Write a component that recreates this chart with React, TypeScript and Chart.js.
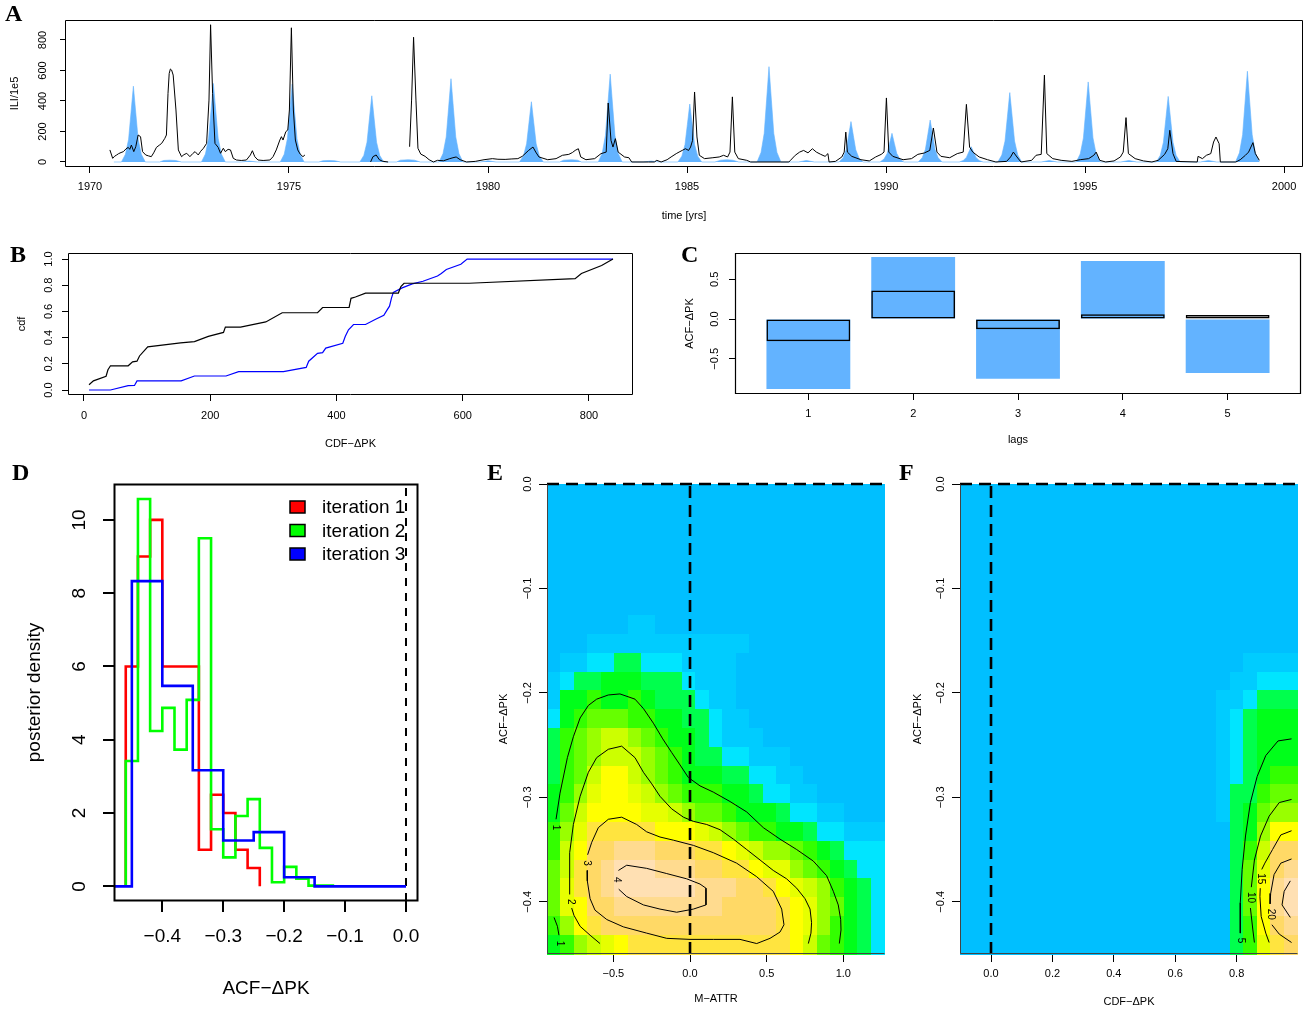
import React, { useEffect, useRef } from "react";
import { Chart, registerables } from "chart.js";

Chart.register(...registerables);

const FONT = "'Liberation Sans', Arial, Helvetica, sans-serif";
const SERIF = "'Liberation Serif', 'Times New Roman', Times, serif";
const M = "\u2212";
const BLUE = "#63B3FF";

Chart.defaults.font.family = FONT;
Chart.defaults.color = "#000";

/* ---------------- Panel A : ILI time series ---------------- */
const A_YEAR_TICKS = [1970, 1975, 1980, 1985, 1990, 1995, 2000];
const A_ILI_TICKS = [0, 200, 400, 600, 800];
const A_MODEL: [number, number][] = [
  [1970.6, 0],
  [1970.79, 0], [1970.89, 50], [1970.97, 149], [1971.03, 323], [1971.09, 497], [1971.15, 323], [1971.21, 149], [1971.29, 50], [1971.39, 0],
  [1971.75, 0], [1971.85, 10], [1972.0, 12], [1972.15, 10], [1972.3, 0],
  [1972.8, 0], [1972.9, 52], [1972.98, 155], [1973.04, 335], [1973.1, 515], [1973.16, 335], [1973.22, 155], [1973.3, 52], [1973.4, 0],
  [1973.8, 0], [1974.0, 6], [1974.2, 0],
  [1974.78, 0], [1974.88, 51], [1974.96, 153], [1975.02, 332], [1975.08, 510], [1975.14, 332], [1975.2, 153], [1975.28, 51], [1975.38, 0],
  [1975.75, 0], [1975.85, 8], [1976.0, 10], [1976.15, 8], [1976.3, 0],
  [1976.78, 0], [1976.88, 43], [1976.96, 130], [1977.02, 282], [1977.08, 434], [1977.14, 282], [1977.2, 130], [1977.28, 43], [1977.38, 0],
  [1977.7, 0], [1977.8, 12], [1978.0, 15], [1978.15, 12], [1978.3, 0],
  [1978.77, 0], [1978.87, 55], [1978.95, 164], [1979.01, 355], [1979.07, 546], [1979.13, 355], [1979.19, 164], [1979.27, 55], [1979.37, 0],
  [1979.8, 0], [1980.0, 8], [1980.2, 0],
  [1980.79, 0], [1980.89, 40], [1980.97, 119], [1981.03, 257], [1981.09, 395], [1981.15, 257], [1981.21, 119], [1981.29, 40], [1981.39, 0],
  [1981.8, 0], [1981.9, 12], [1982.1, 15], [1982.25, 12], [1982.35, 0],
  [1982.77, 0], [1982.87, 58], [1982.95, 173], [1983.01, 374], [1983.07, 576], [1983.13, 374], [1983.19, 173], [1983.27, 58], [1983.37, 0],
  [1983.9, 0], [1984.1, 6], [1984.3, 0],
  [1984.77, 0], [1984.87, 38], [1984.95, 114], [1985.01, 247], [1985.07, 380], [1985.13, 247], [1985.19, 114], [1985.27, 38], [1985.37, 0],
  [1985.7, 0], [1985.85, 12], [1986.0, 15], [1986.15, 12], [1986.3, 0],
  [1986.76, 0], [1986.86, 63], [1986.94, 188], [1987.0, 406], [1987.06, 625], [1987.12, 406], [1987.18, 188], [1987.26, 63], [1987.36, 0],
  [1987.8, 0], [1988.0, 10], [1988.2, 0],
  [1988.82, 0], [1988.92, 27], [1989.0, 80], [1989.06, 172], [1989.12, 265], [1989.18, 172], [1989.24, 80], [1989.32, 27], [1989.42, 0],
  [1989.85, 0], [1989.95, 19], [1990.03, 56], [1990.09, 122], [1990.15, 188], [1990.21, 122], [1990.27, 56], [1990.35, 19], [1990.45, 0],
  [1990.81, 0], [1990.91, 28], [1990.99, 83], [1991.05, 179], [1991.11, 275], [1991.17, 179], [1991.23, 83], [1991.31, 28], [1991.41, 0],
  [1991.84, 0], [1991.94, 10], [1992.02, 30], [1992.08, 65], [1992.14, 100], [1992.2, 65], [1992.26, 30], [1992.34, 10], [1992.44, 0],
  [1992.81, 0], [1992.91, 46], [1992.99, 137], [1993.05, 296], [1993.11, 455], [1993.17, 296], [1993.23, 137], [1993.31, 46], [1993.41, 0],
  [1993.9, 0], [1994.1, 10], [1994.3, 0],
  [1994.78, 0], [1994.88, 53], [1994.96, 158], [1995.02, 341], [1995.08, 525], [1995.14, 341], [1995.2, 158], [1995.28, 53], [1995.38, 0],
  [1995.9, 0], [1996.1, 10], [1996.3, 0],
  [1996.79, 0], [1996.89, 43], [1996.97, 129], [1997.03, 280], [1997.09, 430], [1997.15, 280], [1997.21, 129], [1997.29, 43], [1997.39, 0],
  [1997.9, 0], [1998.1, 10], [1998.3, 0],
  [1998.78, 0], [1998.88, 60], [1998.96, 179], [1999.02, 387], [1999.08, 595], [1999.14, 387], [1999.2, 179], [1999.28, 60], [1999.38, 0],
];
const A_OBSERVED: [number, number | null][] = [
  [1970.5, 79], [1970.57, 24], [1970.62, 38], [1970.67, 46], [1970.72, 55], [1970.78, 62], [1970.84, 68], [1970.9, 85], [1970.96, 96],
  [1971.0, 83], [1971.04, 111], [1971.1, 68], [1971.15, 100], [1971.21, 177], [1971.27, 166], [1971.32, 68], [1971.4, 46], [1971.47, 40],
  [1971.54, 35], [1971.6, 60], [1971.67, 96], [1971.74, 110], [1971.8, 122], [1971.88, 155], [1971.92, 177], [1971.96, 450], [1971.99, 581],
  [1972.02, 610], [1972.05, 603], [1972.09, 570], [1972.16, 341], [1972.22, 79], [1972.3, 35], [1972.36, 48], [1972.43, 57], [1972.51, 35],
  [1972.58, 55], [1972.64, 68], [1972.72, 46], [1972.78, 70], [1972.85, 90], [1972.93, 122], [1972.99, 406], [1973.03, 900], [1973.08, 450],
  [1973.14, 122], [1973.22, 96], [1973.28, 57], [1973.35, 90], [1973.4, 68], [1973.47, 83], [1973.53, 79], [1973.6, 24], [1973.68, 13],
  [1973.8, 10], [1973.93, 13], [1974.03, 46], [1974.08, 74], [1974.14, 35], [1974.22, 13], [1974.35, 10], [1974.52, 13], [1974.6, 35],
  [1974.68, 79], [1974.77, 144], [1974.81, 166], [1974.85, 144], [1974.92, 199], [1974.97, 210], [1975.01, 341], [1975.06, 880],
  [1975.11, 341], [1975.16, 144], [1975.22, 79], [1975.28, 52], [1975.35, 35], [1975.4, 46],
  [1976.2, null],
  [1977.05, 0], [1977.11, 35], [1977.19, 46], [1977.27, 15], [1977.35, 5], [1977.49, 0],
  [1977.7, null],
  [1978.03, 100], [1978.08, 406], [1978.13, 818], [1978.19, 406], [1978.24, 90], [1978.31, 52], [1978.42, 37], [1978.52, 15], [1978.63, 0],
  [1978.73, 11], [1978.88, 8], [1979.04, 22], [1979.12, 28], [1979.2, 33], [1979.3, 15], [1979.46, 0], [1979.68, 4], [1979.9, 15],
  [1980.11, 22], [1980.25, 18], [1980.43, 17], [1980.6, 20], [1980.75, 22], [1980.86, 37], [1981.02, 76], [1981.13, 98], [1981.2, 65],
  [1981.28, 33], [1981.5, 15], [1981.71, 22], [1981.87, 44], [1982.03, 50], [1982.12, 62], [1982.19, 76], [1982.27, 87], [1982.33, 33],
  [1982.46, 15], [1982.68, 22], [1982.84, 55], [1982.97, 65], [1983.02, 387], [1983.09, 142], [1983.14, 98], [1983.2, 153], [1983.27, 65],
  [1983.43, 33], [1983.54, 28], [1983.61, 0], [1984.03, 0], [1984.18, 0], [1984.24, 11], [1984.35, 0], [1984.5, 15], [1984.6, 33],
  [1984.73, 55], [1984.8, 65], [1984.88, 76], [1984.96, 87], [1985.04, 76], [1985.09, 98], [1985.14, 142], [1985.19, 459], [1985.25, 164],
  [1985.31, 44], [1985.44, 22], [1985.65, 28], [1985.81, 33], [1985.92, 44], [1986.02, 33], [1986.08, 65], [1986.14, 427], [1986.2, 65],
  [1986.29, 22], [1986.5, 11], [1986.6, 0], [1987.56, 0], [1987.6, 11], [1987.72, 44], [1987.83, 65], [1987.93, 76], [1988.04, 60],
  [1988.15, 87], [1988.25, 65], [1988.36, 50], [1988.47, 37], [1988.54, 55], [1988.57, 0], [1988.73, 4], [1988.89, 33], [1988.95, 65],
  [1988.99, 196], [1989.03, 65], [1989.14, 37], [1989.37, 15], [1989.58, 7], [1989.74, 33], [1989.88, 50], [1989.95, 65], [1990.01, 420],
  [1990.07, 65], [1990.17, 37], [1990.43, 15], [1990.64, 22], [1990.8, 50], [1990.96, 59], [1991.1, 76], [1991.19, 223], [1991.28, 65],
  [1991.38, 37], [1991.6, 28], [1991.79, 55], [1991.94, 65], [1992.02, 378], [1992.1, 98], [1992.18, 65], [1992.34, 33], [1992.55, 15],
  [1992.76, 0], [1993.03, 4], [1993.13, 33], [1993.2, 65], [1993.29, 33], [1993.39, 0], [1993.66, 11], [1993.77, 44], [1993.9, 50],
  [1993.98, 570], [1994.04, 55], [1994.19, 22], [1994.4, 11], [1994.67, 4], [1994.88, 15], [1995.09, 22], [1995.22, 44], [1995.28, 65],
  [1995.37, 11], [1995.52, 0], [1995.73, 7], [1995.89, 33], [1995.96, 65], [1996.03, 291], [1996.09, 55], [1996.26, 22], [1996.47, 7],
  [1996.68, 0], [1996.84, 11], [1997.0, 50], [1997.08, 87], [1997.13, 208], [1997.21, 55], [1997.29, 4], [1997.82, 0], [1997.84, 37],
  [1997.95, 22], [1998.05, 44], [1998.16, 55], [1998.23, 131], [1998.29, 164], [1998.37, 120], [1998.4, 0], [1998.79, 0], [1998.9, 15],
  [1999.03, 44], [1999.11, 65], [1999.22, 127], [1999.28, 55], [1999.38, 11],
];

/* ---------------- Panel B : CDFs ---------------- */
const B_X_TICKS = [0, 200, 400, 600, 800];
const B_Y_TICKS = [0, 0.2, 0.4, 0.6, 0.8, 1.0];
const B_OBSERVED: [number, number][] = [
  [8, 0.04], [15, 0.07], [35, 0.105], [38, 0.155], [42, 0.185], [70, 0.185], [77, 0.215], [84, 0.22], [88, 0.26], [101, 0.33],
  [153, 0.36], [175, 0.37], [197, 0.41], [221, 0.44], [224, 0.48], [248, 0.48], [288, 0.52], [314, 0.59], [370, 0.59], [378, 0.63],
  [420, 0.63], [423, 0.7], [430, 0.71], [446, 0.74], [498, 0.74], [502, 0.79], [507, 0.815], [610, 0.815], [778, 0.85], [788, 0.89],
  [820, 0.95], [838, 1.0],
];
const B_SIMULATED: [number, number][] = [
  [8, 0], [42, 0], [70, 0.033], [80, 0.035], [84, 0.07], [154, 0.07], [175, 0.107], [225, 0.107], [245, 0.14], [316, 0.14],
  [352, 0.173], [356, 0.22], [370, 0.28], [378, 0.285], [383, 0.32], [410, 0.357], [414, 0.41], [419, 0.46], [427, 0.5], [446, 0.5],
  [462, 0.54], [475, 0.57], [480, 0.61], [484, 0.64], [487, 0.7], [490, 0.745], [504, 0.78], [520, 0.81], [537, 0.83], [560, 0.87],
  [566, 0.89], [574, 0.92], [597, 0.96], [607, 1.0], [838, 1.0],
];

/* ---------------- Panel C : ACF by lag ---------------- */
const C_LAGS = [1, 2, 3, 4, 5];
const C_RANGE = [-0.88, 0.78, -0.75, 0.73, -0.68];
const C_OBSERVED = [-0.28, 0.36, -0.13, 0.06, 0.05];
const C_Y_TICKS = [-0.5, 0, 0.5];

/* ---------------- Panel D : posterior histograms ---------------- */
const D_X_TICKS = [-0.4, -0.3, -0.2, -0.1, 0.0];
const D_Y_TICKS = [0, 2, 4, 6, 8, 10];
const D_LABELS = ["iteration 1", "iteration 2", "iteration 3"];
const D_COLORS = ["#FF0000", "#00FF00", "#0000FF"];
const D1_EDGES = [-0.46, -0.44, -0.42, -0.4, -0.38, -0.36, -0.34, -0.32, -0.3, -0.28, -0.26, -0.24];
const D1_DENS = [6, 9, 10, 6, 6, 6, 1, 2.5, 2, 1, 0.5];
const D2_EDGES = [-0.46, -0.44, -0.42, -0.4, -0.38, -0.36, -0.34, -0.32, -0.3, -0.28, -0.26, -0.24, -0.22, -0.2, -0.18, -0.16, -0.14, -0.12];
const D2_DENS = [3.42, 10.57, 4.24, 4.87, 3.73, 5.09, 9.5, 1.56, 0.79, 1.92, 2.38, 1.05, 0.11, 0.53, 0.21, 0.02, 0.02];
const D3_EDGES = [-0.5, -0.45, -0.4, -0.35, -0.3, -0.25, -0.2, -0.15, -0.1, -0.05, 0.0];
const D3_DENS = [0, 8.33, 5.47, 3.17, 1.25, 1.48, 0.25, 0, 0, 0];

/* ---------------- Panels E / F : joint densities ---------------- */
const PALETTE = [
  "#00BFFF", "#00CCFF", "#00E5FF", "#00FF4D", "#00FF1A", "#33FF00", "#66FF00", "#99FF00",
  "#CCFF00", "#E6FF00", "#FFFF00", "#FFE43F", "#FFD966", "#FFDB8F", "#FFE0B3",
];
const EF_Y_TICKS = [0, -0.1, -0.2, -0.3, -0.4];
const E_X_TICKS = [-0.5, 0, 0.5, 1.0];
const F_X_TICKS = [0, 0.2, 0.4, 0.6, 0.8];
// rows listed from top (ACF-dPK = 0) to bottom (-0.45); one character per cell (hex palette index)
const E_GRID = [
  "0000000000000000000000000",
  "0000000000000000000000000",
  "0000000000000000000000000",
  "0000000000000000000000000",
  "0000000000000000000000000",
  "0000000000000000000000000",
  "0000000000000000000000000",
  "0000001100000000000000000",
  "0001111111111110000000000",
  "0112233222111100000000000",
  "1233444333211100000000000",
  "1445445433321100000000000",
  "2456665544332110000000000",
  "3567887654432111000000000",
  "3567888765433221110000000",
  "3568aa8765444332211000000",
  "4579aa9876555443221100000",
  "468aaaa998766544432211000",
  "579bbbbbaaa98765544322111",
  "58accdddcccbba98776543222",
  "68bcdeeedddccbba997654322",
  "69bcdeeeeeedddccba9875432",
  "69accddddddddccccba976432",
  "57abcccccccccccccba975432",
  "45789abbbbbbbbbbbba865432",
];
const F_GRID = [
  "0000000000000000000000000",
  "0000000000000000000000000",
  "0000000000000000000000000",
  "0000000000000000000000000",
  "0000000000000000000000000",
  "0000000000000000000000000",
  "0000000000000000000000000",
  "0000000000000000000000000",
  "0000000000000000000000000",
  "0000000000000000000001111",
  "0000000000000000000011222",
  "0000000000000000000112333",
  "0000000000000000000123444",
  "0000000000000000000123444",
  "0000000000000000000123444",
  "0000000000000000000123455",
  "0000000000000000000133566",
  "0000000000000000000134677",
  "00000000000000000000347aa",
  "00000000000000000000358cc",
  "00000000000000000000369cd",
  "0000000000000000000036ade",
  "0000000000000000000036ade",
  "0000000000000000000035acd",
  "0000000000000000000359bc".padStart(25, "0"),
];
const E_CONTOURS: [number, number][][] = [
  [[-0.874, -0.321], [-0.848, -0.296], [-0.8, -0.262], [-0.761, -0.242], [-0.717, -0.224], [-0.663, -0.212], [-0.609, -0.206],
   [-0.533, -0.202], [-0.457, -0.201], [-0.359, -0.206], [-0.304, -0.215], [-0.239, -0.229], [-0.178, -0.244], [-0.12, -0.257],
   [-0.065, -0.269], [-0.011, -0.281], [0.065, -0.289], [0.152, -0.295], [0.261, -0.304], [0.37, -0.314], [0.478, -0.329],
   [0.587, -0.34], [0.696, -0.35], [0.804, -0.361], [0.891, -0.375], [0.935, -0.39], [0.967, -0.403], [0.983, -0.417],
   [0.985, -0.427], [0.974, -0.44]],
  [[-0.887, -0.415], [-0.865, -0.4235], [-0.855, -0.432]],
  [[-0.587, -0.44], [-0.652, -0.432], [-0.717, -0.4235], [-0.757, -0.413], [-0.772, -0.406]],
  [[-0.785, -0.393], [-0.787, -0.38], [-0.783, -0.353], [-0.761, -0.326], [-0.717, -0.299], [-0.663, -0.276], [-0.609, -0.262],
   [-0.533, -0.254], [-0.446, -0.251], [-0.359, -0.262], [-0.304, -0.276], [-0.25, -0.287], [-0.196, -0.299], [-0.12, -0.311],
   [-0.043, -0.319], [0.022, -0.323], [0.109, -0.326], [0.196, -0.331], [0.283, -0.34], [0.37, -0.35], [0.457, -0.36],
   [0.543, -0.37], [0.63, -0.378], [0.696, -0.387], [0.75, -0.397], [0.783, -0.407], [0.793, -0.42], [0.789, -0.43], [0.772, -0.44]],
  [[-0.671, -0.37], [-0.67, -0.38], [-0.652, -0.397], [-0.62, -0.408], [-0.543, -0.417], [-0.435, -0.424], [-0.283, -0.43],
   [-0.152, -0.435], [0.0, -0.436], [0.152, -0.436], [0.326, -0.436], [0.435, -0.44], [0.522, -0.435], [0.587, -0.429],
   [0.613, -0.422], [0.598, -0.407], [0.543, -0.39], [0.435, -0.376], [0.304, -0.363], [0.152, -0.353], [0.022, -0.346],
   [-0.109, -0.341], [-0.196, -0.338], [-0.283, -0.333], [-0.348, -0.326], [-0.446, -0.319], [-0.533, -0.321], [-0.598, -0.329],
   [-0.641, -0.343], [-0.668, -0.355]],
  [[-0.467, -0.37], [-0.413, -0.365], [-0.283, -0.368], [-0.152, -0.373], [-0.022, -0.378], [0.065, -0.383], [0.104, -0.387],
   [0.104, -0.403], [0.022, -0.407], [-0.087, -0.41], [-0.196, -0.407], [-0.304, -0.403], [-0.413, -0.395], [-0.465, -0.388]],
];
const E_LEVEL_LABELS = [
  { x: -0.878, y: -0.329, t: "1" }, { x: -0.848, y: -0.44, t: "1" }, { x: -0.779, y: -0.4, t: "2" },
  { x: -0.672, y: -0.363, t: "3" }, { x: -0.477, y: -0.379, t: "4" },
];
const F_CONTOURS: [number, number][][] = [
  [[0.979, -0.244], [0.935, -0.246], [0.895, -0.26], [0.867, -0.28], [0.845, -0.305], [0.829, -0.337], [0.818, -0.369],
   [0.812, -0.401], [0.812, -0.43]],
  [[0.979, -0.302], [0.939, -0.305], [0.906, -0.318], [0.878, -0.337], [0.858, -0.36], [0.848, -0.386]],
  [[0.845, -0.406], [0.853, -0.427], [0.858, -0.439]],
  [[0.979, -0.332], [0.944, -0.336], [0.917, -0.35], [0.892, -0.363], [0.882, -0.369]],
  [[0.877, -0.387], [0.876, -0.395], [0.88, -0.414], [0.895, -0.43], [0.906, -0.439]],
  [[0.979, -0.359], [0.944, -0.363], [0.922, -0.374], [0.911, -0.392], [0.909, -0.402]],
  [[0.915, -0.422], [0.939, -0.431], [0.979, -0.439]],
  [[0.975, -0.38], [0.955, -0.39], [0.948, -0.403], [0.975, -0.415]],
];
const F_LEVEL_LABELS = [
  { x: 0.813, y: -0.437, t: "5" }, { x: 0.846, y: -0.396, t: "10" },
  { x: 0.879, y: -0.378, t: "15" }, { x: 0.91, y: -0.412, t: "20" },
];

/* ---------------- helpers ---------------- */
const fmtInt = (v: number) => String(Math.round(v));
const fmt1 = (v: number) => (v < -1e-9 ? M : "") + Math.abs(v).toFixed(1);

function xAxis(s: any) {
  return {
    type: "linear", position: "bottom", min: s.min, max: s.max, offset: false,
    afterBuildTicks: (sc: any) => { sc.ticks = s.ticks.map((v: number) => ({ value: v })); },
    afterFit: (sc: any) => { sc.height = s.extent; sc.paddingLeft = 0; sc.paddingRight = 0; sc.paddingTop = 0; sc.paddingBottom = 0; },
    grid: { display: true, drawOnChartArea: false, drawTicks: true, tickLength: s.tickLen, color: "#000", lineWidth: s.lw || 1, offset: false },
    border: { display: false },
    ticks: { autoSkip: false, minRotation: 0, maxRotation: 0, padding: s.pad, color: "#000", font: { family: FONT, size: s.size }, callback: (v: any) => s.fmt(Number(v)) },
    title: { display: true, text: s.title, color: "#000", font: { family: FONT, size: s.titleSize || s.size }, padding: { top: 0, bottom: s.titlePad } },
  };
}
function yAxis(s: any) {
  return {
    type: "linear", position: "left", min: s.min, max: s.max, offset: false,
    afterBuildTicks: (sc: any) => { sc.ticks = s.ticks.map((v: number) => ({ value: v })); },
    afterFit: (sc: any) => { sc.width = s.extent; sc.paddingLeft = 0; sc.paddingRight = 0; sc.paddingTop = 0; sc.paddingBottom = 0; },
    grid: { display: true, drawOnChartArea: false, drawTicks: true, tickLength: s.tickLen, color: "#000", lineWidth: s.lw || 1, offset: false },
    border: { display: false },
    ticks: { autoSkip: false, minRotation: 90, maxRotation: 90, crossAlign: "center", padding: s.pad, color: "#000", font: { family: FONT, size: s.size }, callback: (v: any) => s.fmt(Number(v)) },
    title: { display: true, text: s.title, color: "#000", font: { family: FONT, size: s.titleSize || s.size }, padding: { top: s.titlePad, bottom: 0 } },
  };
}
function baseOptions(pad: any, scales: any) {
  return {
    responsive: false, maintainAspectRatio: false, animation: false, events: [],
    layout: { padding: pad },
    plugins: { legend: { display: false }, tooltip: { enabled: false }, title: { display: false } },
    elements: { point: { radius: 0 }, line: { tension: 0 } },
    scales,
  };
}
function framePlugin(sides: string, color: string, width: number) {
  return {
    id: "frame",
    afterDatasetsDraw(chart: any) {
      const { ctx, chartArea: a } = chart;
      const l = Math.round(a.left) + 0.5, t = Math.round(a.top) + 0.5, r = Math.round(a.right) - 0.5, b = Math.round(a.bottom) - 0.5;
      ctx.save(); ctx.strokeStyle = color; ctx.lineWidth = width; ctx.beginPath();
      if (sides === "all") { ctx.rect(l, t, r - l, b - t); }
      else { ctx.moveTo(l, t); ctx.lineTo(l, b); ctx.lineTo(r, b); }
      ctx.stroke(); ctx.restore();
    },
  };
}
function heatmapPlugin(rows: string[], xr: [number, number], yr: [number, number]) {
  return {
    id: "heatmap",
    beforeDatasetsDraw(chart: any) {
      const { ctx, scales: { x, y } } = chart;
      const nr = rows.length, nc = rows[0].length;
      const dx = (xr[1] - xr[0]) / nc, dy = (yr[1] - yr[0]) / nr;
      ctx.save();
      rows.forEach((row, i) => {
        const top = yr[1] - i * dy, bot = top - dy;
        for (let c = 0; c < nc; c++) {
          const x0 = x.getPixelForValue(xr[0] + c * dx), x1 = x.getPixelForValue(xr[0] + (c + 1) * dx);
          const y0 = y.getPixelForValue(top), y1 = y.getPixelForValue(bot);
          ctx.fillStyle = PALETTE[parseInt(row[c], 16)];
          const px = Math.floor(x0), py = Math.floor(y0);
          ctx.fillRect(px, py, Math.ceil(x1) - px, Math.ceil(y1) - py);
        }
      });
      ctx.restore();
    },
  };
}
function levelLabelPlugin(items: { x: number; y: number; t: string }[], size: number) {
  return {
    id: "levelLabels",
    afterDatasetsDraw(chart: any) {
      const { ctx, scales: { x, y } } = chart;
      ctx.save(); ctx.font = `${size}px ${FONT}`; ctx.fillStyle = "#000"; ctx.textAlign = "center"; ctx.textBaseline = "middle";
      items.forEach((it) => {
        ctx.save(); ctx.translate(x.getPixelForValue(it.x), y.getPixelForValue(it.y)); ctx.rotate(Math.PI / 2);
        ctx.fillText(it.t, 0, 0); ctx.restore();
      });
      ctx.restore();
    },
  };
}
const dLegendPlugin = {
  id: "dLegend",
  afterDatasetsDraw(chart: any) {
    const { ctx, chartArea: a } = chart;
    ctx.save(); ctx.font = `19px ${FONT}`; ctx.textBaseline = "middle"; ctx.textAlign = "left";
    D_LABELS.forEach((lab, i) => {
      const cy = a.top + 23 + i * 23.5;
      ctx.fillStyle = D_COLORS[i]; ctx.fillRect(a.left + 176, cy - 6, 15, 12);
      ctx.strokeStyle = "#000"; ctx.lineWidth = 1.5; ctx.strokeRect(a.left + 176, cy - 6, 15, 12);
      ctx.fillStyle = "#000"; ctx.fillText(lab, a.left + 208, cy + 1);
    });
    ctx.restore();
  },
};
const pts = (arr: [number, number | null][]) => arr.map(([x, y]) => ({ x, y }));
function stepPoints(edges: number[], dens: number[]) {
  const out = [{ x: edges[0], y: 0 }];
  dens.forEach((d, i) => out.push({ x: edges[i], y: d }));
  out.push({ x: edges[edges.length - 1], y: 0 });
  return out;
}
const lineDs = (data: any[], color: string, width: number, extra: any = {}) => ({
  data, borderColor: color, borderWidth: width, pointRadius: 0, fill: false, ...extra,
});

/* ---------------- chart configs ---------------- */
function configA() {
  return {
    type: "line",
    data: { datasets: [
      lineDs(pts(A_OBSERVED), "#000", 1, { spanGaps: false }),
      { data: pts(A_MODEL), borderColor: BLUE, borderWidth: 0.6, backgroundColor: BLUE, pointRadius: 0, fill: "origin" },
    ] },
    options: baseOptions({ left: 0, top: 20, right: 5, bottom: 0 }, {
      x: xAxis({ min: 1969.372, max: 2000.477, ticks: A_YEAR_TICKS, fmt: fmtInt, extent: 63, tickLen: 6, pad: 7.4, size: 11, title: "time [yrs]", titlePad: 7.4 }),
      y: yAxis({ min: -32.8, max: 931.1, ticks: A_ILI_TICKS, fmt: fmtInt, extent: 65, tickLen: 5, pad: 7.8, size: 11, title: "ILI/1e5", titlePad: 8.4 }),
    }),
    plugins: [framePlugin("all", "#000", 1)],
  };
}
function configB() {
  return {
    type: "line",
    data: { datasets: [lineDs(pts(B_OBSERVED), "#000", 1.2), lineDs(pts(B_SIMULATED), "#0000FF", 1.2)] },
    options: baseOptions({ left: 0, top: 23, right: 22, bottom: 0 }, {
      x: xAxis({ min: -25.3, max: 869.7, ticks: B_X_TICKS, fmt: fmtInt, extent: 65, tickLen: 6, pad: 8.4, size: 11, title: `CDF${M}\u0394PK`, titlePad: 9.4 }),
      y: yAxis({ min: -0.038, max: 1.046, ticks: B_Y_TICKS, fmt: fmt1, extent: 68, tickLen: 6, pad: 5.8, size: 11, title: "cdf", titlePad: 15.4 }),
    }),
    plugins: [framePlugin("all", "#000", 1)],
  };
}
function configC() {
  return {
    type: "bar",
    data: { datasets: [
      { data: C_LAGS.map((l, i) => ({ x: l, y: [0, C_OBSERVED[i]] })), backgroundColor: "rgba(0,0,0,0)", borderColor: "#000", borderWidth: 1.5, borderSkipped: false, grouped: false, barPercentage: 0.8, categoryPercentage: 1 },
      { data: C_LAGS.map((l, i) => ({ x: l, y: [0, C_RANGE[i]] })), backgroundColor: BLUE, borderWidth: 0, grouped: false, barPercentage: 0.8, categoryPercentage: 1 },
    ] },
    options: baseOptions({ left: 0, top: 23, right: 7, bottom: 0 }, {
      x: xAxis({ min: 0.3, max: 5.7, ticks: C_LAGS, fmt: fmtInt, extent: 66, tickLen: 6, pad: 7.4, size: 11, title: "lags", titlePad: 13.4 }),
      y: yAxis({ min: -0.943, max: 0.83, ticks: C_Y_TICKS, fmt: fmt1, extent: 80, tickLen: 6, pad: 3.1, size: 11, title: `ACF${M}\u0394PK`, titlePad: 28.4 }),
    }),
    plugins: [framePlugin("all", "#000", 1.2)],
  };
}
function configD() {
  return {
    type: "line",
    data: { datasets: [
      lineDs(stepPoints(D3_EDGES, D3_DENS), D_COLORS[2], 2.6, { stepped: "before" }),
      lineDs(stepPoints(D2_EDGES, D2_DENS), D_COLORS[1], 2.6, { stepped: "before" }),
      lineDs(stepPoints(D1_EDGES, D1_DENS), D_COLORS[0], 2.6, { stepped: "before" }),
      lineDs([{ x: 0, y: -0.4 }, { x: 0, y: 10.98 }], "#000", 2, { borderDash: [8, 7] }),
    ] },
    options: baseOptions({ left: 0, top: 24, right: 32, bottom: 0 }, {
      x: xAxis({ min: -0.4793, max: 0.0197, ticks: D_X_TICKS, fmt: fmt1, extent: 109, tickLen: 11, pad: 13.6, size: 19, title: `ACF${M}\u0394PK`, titlePad: 9.6, lw: 2 }),
      y: yAxis({ min: -0.4, max: 10.98, ticks: D_Y_TICKS, fmt: fmtInt, extent: 114, tickLen: 11, pad: 12.4, size: 19, title: "posterior density", titlePad: 23.6, lw: 2 }),
    }),
    plugins: [framePlugin("all", "#000", 2), dLegendPlugin],
  };
}
function configE() {
  const xr: [number, number] = [-0.933, 1.272];
  return {
    type: "line",
    data: { datasets: [
      lineDs([{ x: xr[0], y: 0 }, { x: xr[1], y: 0 }], "#000", 2.6, { borderDash: [12, 7], clip: false }),
      lineDs([{ x: 0, y: -0.45 }, { x: 0, y: 0 }], "#000", 2.6, { borderDash: [12, 7], clip: false }),
      ...E_CONTOURS.map((c) => lineDs(pts(c), "#000", 1)),
    ] },
    options: baseOptions({ left: 0, top: 24, right: 10, bottom: 0 }, {
      x: xAxis({ min: xr[0], max: xr[1], ticks: E_X_TICKS, fmt: fmt1, extent: 56, tickLen: 8, pad: 5.4, size: 11, title: `M${M}ATTR`, titlePad: 4.4 }),
      y: yAxis({ min: -0.45, max: 0, ticks: EF_Y_TICKS, fmt: fmt1, extent: 67, tickLen: 8, pad: 0.1, size: 11, title: `ACF${M}\u0394PK`, titlePad: 17.4 }),
    }),
    plugins: [heatmapPlugin(E_GRID, xr, [-0.45, 0]), framePlugin("lb", "#444", 1), levelLabelPlugin(E_LEVEL_LABELS, 10)],
  };
}
function configF() {
  const xr: [number, number] = [-0.101, 1.0];
  return {
    type: "line",
    data: { datasets: [
      lineDs([{ x: xr[0], y: 0 }, { x: xr[1], y: 0 }], "#000", 2.6, { borderDash: [12, 7], clip: false }),
      lineDs([{ x: 0, y: -0.45 }, { x: 0, y: 0 }], "#000", 2.6, { borderDash: [12, 7], clip: false }),
      ...F_CONTOURS.map((c) => lineDs(pts(c), "#000", 1)),
    ] },
    options: baseOptions({ left: 0, top: 24, right: 10, bottom: 0 }, {
      x: xAxis({ min: xr[0], max: xr[1], ticks: F_X_TICKS, fmt: fmt1, extent: 56, tickLen: 8, pad: 5.4, size: 11, title: `CDF${M}\u0394PK`, titlePad: 1.4 }),
      y: yAxis({ min: -0.45, max: 0, ticks: EF_Y_TICKS, fmt: fmt1, extent: 65, tickLen: 8, pad: 0, size: 11, title: `ACF${M}\u0394PK`, titlePad: 16.1 }),
    }),
    plugins: [heatmapPlugin(F_GRID, xr, [-0.45, 0]), framePlugin("lb", "#444", 1), levelLabelPlugin(F_LEVEL_LABELS, 10)],
  };
}

function ChartCanvas({ rect, build }: { rect: [number, number, number, number]; build: () => any }) {
  const ref = useRef<HTMLCanvasElement>(null);
  useEffect(() => {
    const chart = new Chart(ref.current as HTMLCanvasElement, build());
    return () => chart.destroy();
  }, []);
  const [l, t, w, h] = rect;
  return <canvas ref={ref} width={w} height={h} style={{ position: "absolute", left: l, top: t, width: w, height: h }} />;
}

const PANEL_LETTERS = [
  { t: "A", x: 5, y: 1 }, { t: "B", x: 10, y: 242 }, { t: "C", x: 681, y: 242 },
  { t: "D", x: 12, y: 460 }, { t: "E", x: 487, y: 460 }, { t: "F", x: 899, y: 460 },
];

export default function App() {
  return (
    <div style={{ position: "absolute", left: 0, top: 0, width: 1308, height: 1010, overflow: "hidden", background: "#fff" }}>
      <ChartCanvas rect={[0, 0, 1308, 230]} build={configA} />
      <ChartCanvas rect={[0, 230, 655, 230]} build={configB} />
      <ChartCanvas rect={[655, 230, 653, 230]} build={configC} />
      <ChartCanvas rect={[0, 460, 450, 550]} build={configD} />
      <ChartCanvas rect={[480, 460, 415, 550]} build={configE} />
      <ChartCanvas rect={[895, 460, 413, 550]} build={configF} />
      {PANEL_LETTERS.map((p) => (
        <div key={p.t} style={{ position: "absolute", left: p.x, top: p.y, fontFamily: SERIF, fontWeight: "bold", fontSize: 24, lineHeight: "24px" }}>{p.t}</div>
      ))}
    </div>
  );
}
